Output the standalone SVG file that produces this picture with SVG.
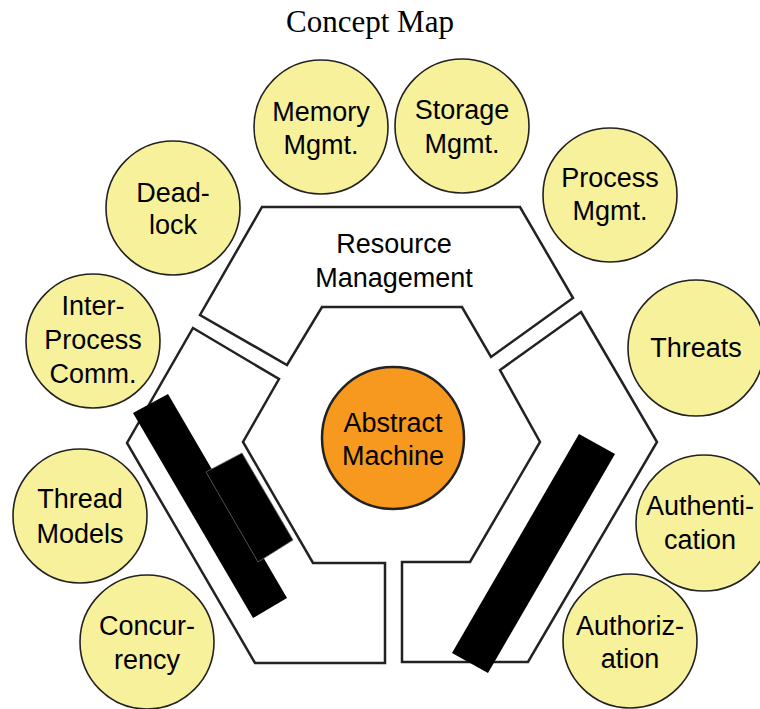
<svg xmlns="http://www.w3.org/2000/svg" width="760" height="709" viewBox="0 0 760 709">
<style>
.bg{fill:#ffffff}
.piece{fill:#ffffff;stroke:#222222;stroke-width:2.5;stroke-linejoin:miter}
.bar{fill:#000000}
.bar2{fill:#000000;stroke:#666666;stroke-width:0.8}
.c{fill:#F7F19B;stroke:#222222;stroke-width:1.6}
.core{fill:#F7991E;stroke:#222222;stroke-width:2.5}
.t{font-family:"Liberation Sans",Arial,sans-serif;font-size:27px;fill:#000000;text-anchor:middle}
.title{font-family:"Liberation Serif","Times New Roman",serif;font-size:31px;fill:#000000;text-anchor:middle}
</style>
<rect class="bg" x="0" y="0" width="760" height="709"/>
<text class="title" x="370" y="32">Concept Map</text>
<g id="connectors"></g>
<g id="resource-management">
<polygon class="piece" points="262,207 520,207 573,298 491,357 462,307 322,307 287,365 200,315"/>
<text class="t" x="394" y="253">Resource</text>
<text class="t" x="394" y="287">Management</text>
</g>
<g id="left-piece">
<polygon class="piece" points="193,328 279,379 243,442 313,563 385,563 385,663 255,663 127,443"/>
<polygon class="bar" points="133,413 168,394 287,598 253,618"/>
<polygon class="bar2" points="206,472 242,453 293,540 258,562"/>
</g>
<g id="right-piece">
<polygon class="piece" points="581,312 657,442 528,662 402,662 402,562 470,562 540,442 500,370"/>
<polygon class="bar" points="579,434 615,454 488,673 452,653"/>
</g>
<g id="abstract-machine">
<circle class="core" cx="393" cy="438" r="71"/>
<text class="t" x="393" y="432">Abstract</text>
<text class="t" x="393" y="465">Machine</text>
</g>
<g id="memory-mgmt">
<circle class="c" cx="321" cy="127" r="67"/>
<text class="t" x="321" y="121">Memory</text>
<text class="t" x="321" y="154">Mgmt.</text>
</g>
<g id="storage-mgmt">
<circle class="c" cx="462" cy="126" r="67"/>
<text class="t" x="462" y="119">Storage</text>
<text class="t" x="462" y="153">Mgmt.</text>
</g>
<g id="process-mgmt">
<circle class="c" cx="610" cy="195" r="67"/>
<text class="t" x="610" y="187">Process</text>
<text class="t" x="610" y="220">Mgmt.</text>
</g>
<g id="deadlock">
<circle class="c" cx="173" cy="208" r="67"/>
<text class="t" x="173" y="202">Dead-</text>
<text class="t" x="173" y="234">lock</text>
</g>
<g id="inter-process-comm">
<circle class="c" cx="93" cy="341" r="67"/>
<text class="t" x="93" y="315">Inter-</text>
<text class="t" x="93" y="349">Process</text>
<text class="t" x="93" y="383">Comm.</text>
</g>
<g id="threats">
<circle class="c" cx="696" cy="348" r="68"/>
<text class="t" x="696" y="357">Threats</text>
</g>
<g id="thread-models">
<circle class="c" cx="80" cy="516" r="67"/>
<text class="t" x="80" y="508">Thread</text>
<text class="t" x="80" y="543">Models</text>
</g>
<g id="authentication">
<circle class="c" cx="704" cy="523" r="68"/>
<text class="t" x="700" y="515">Authenti-</text>
<text class="t" x="700" y="549">cation</text>
</g>
<g id="concurrency">
<circle class="c" cx="147" cy="642" r="67"/>
<text class="t" x="147" y="635">Concur-</text>
<text class="t" x="147" y="669">rency</text>
</g>
<g id="authorization">
<circle class="c" cx="630" cy="641" r="67"/>
<text class="t" x="630" y="635">Authoriz-</text>
<text class="t" x="630" y="668">ation</text>
</g>
</svg>
